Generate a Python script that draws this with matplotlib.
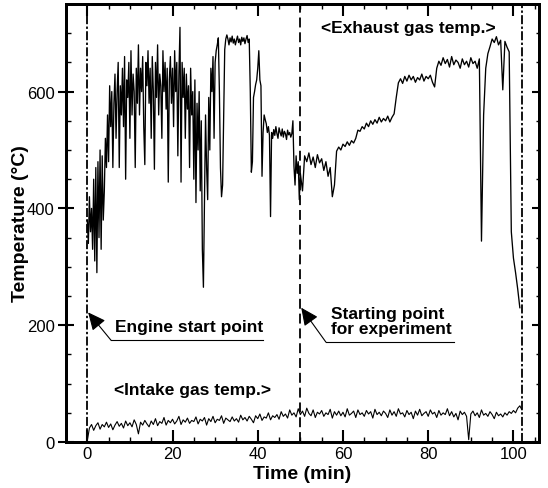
import numpy as np
import matplotlib.pyplot as plt
from matplotlib.ticker import MultipleLocator

plt.rcParams['font.family'] = ['Liberation Sans', 'DejaVu Sans']

# temperatura de escape (C), una muestra cada 0.25 min de 0 a 49.75 min
escape_1 = [
    380, 340, 420, 360, 400, 330, 450, 310, 470, 290,   # t = 0
    480, 350, 500, 330, 490, 380, 430, 520, 470, 560,   # t = 2.5
    480, 610, 540, 600, 470, 580, 630, 520, 600, 650,   # t = 5
    470, 610, 560, 640, 540, 660, 450, 620, 590, 650,   # t = 7.5
    520, 670, 560, 630, 600, 470, 640, 580, 680, 560,   # t = 10
    640, 600, 660, 540, 475, 650, 610, 670, 580, 640,   # t = 12.5
    520, 660, 600, 467, 650, 590, 680, 560, 630, 610,   # t = 15
    520, 670, 600, 650, 570, 640, 445, 620, 660, 580,   # t = 17.5
    640, 540, 670, 600, 650, 490, 630, 710, 445, 650,   # t = 20
    590, 640, 520, 630, 570, 610, 470, 640, 560, 600,   # t = 22.5
    450, 620, 410, 580, 500, 600, 430, 550, 330, 265,   # t = 25
    420, 560, 470, 415, 590, 500, 640, 600, 660, 520,   # t = 27.5
    650, 670, 680, 692, 600, 470, 420, 440, 560, 672,   # t = 30
    690, 697, 690, 680, 692, 685, 695, 683, 690, 680,   # t = 32.5
    688, 695, 684, 690, 680, 693, 686, 692, 682, 690,   # t = 35
    696, 684, 690, 600, 462, 480, 590, 600, 612, 620,   # t = 37.5
    640, 670, 620, 610, 455, 530, 560, 552, 545, 530,   # t = 40
    540, 525, 386, 530, 520, 535, 525, 540, 528, 520,   # t = 42.5
    538, 530, 524, 536, 522, 532, 528, 518, 534, 526,   # t = 45
    530, 522, 528, 550, 472, 440, 490, 460, 480, 415,   # t = 47.5
]

# temperatura de escape, una muestra cada 0.5 min de 50 a 101.5 min
escape_2 = [
    460, 430, 490, 480, 495, 475, 488, 470, 492, 478,   # t = 50
    485, 465, 480, 455, 470, 420, 440, 498, 505, 500,   # t = 55
    510, 506, 514, 508, 516, 512, 520, 534, 532, 540,   # t = 60
    536, 546, 540, 550, 544, 552, 546, 556, 548, 554,   # t = 65
    550, 558, 548, 556, 562, 590, 615, 622, 614, 626,   # t = 70
    618, 628, 620, 626, 616, 624, 620, 630, 618, 626,   # t = 75
    622, 628, 616, 608, 640, 652, 645, 658, 648, 655,   # t = 80
    642, 660, 646, 654, 650, 640, 656, 646, 652, 642,   # t = 85
    658, 648, 652, 640, 656, 344, 560, 640, 665, 677,   # t = 90
    690, 684, 694, 680, 688, 603, 686, 676, 668, 360,   # t = 95
    315, 290, 262, 230,                                 # t = 100
]

# temperatura de admision, una muestra cada 0.5 min de 0 a 102 min
admision = [
    2, 24, 30, 20, 28, 33, 22, 30, 26, 34,
    25, 31, 21, 29, 35, 27, 32, 24, 36, 28,
    33, 26, 38, 30, 14, 34, 29, 37, 31, 26,
    36, 30, 40, 28, 35, 32, 42, 29, 37, 33,
    39, 31, 36, 44, 30, 38, 34, 41, 32, 37,
    35, 43, 31, 39, 36, 42, 29, 40, 35, 44,
    33, 39, 37, 45, 32, 41, 38, 35, 43, 36,
    40, 34, 46, 38, 42, 36, 44, 39, 33, 45,
    40, 48, 37, 43, 41, 50, 38, 45, 42, 47,
    39, 52, 44, 48, 41, 55, 46, 50, 43, 57,
    47, 53, 44, 58, 49, 45, 55, 42, 51, 48,
    54, 44, 50, 47, 56, 41, 52, 46, 53, 45,
    51, 43, 57, 46, 49, 53, 42, 55, 47, 50,
    44, 54, 48, 52, 41, 56, 47, 51, 45, 53,
    49, 42, 55, 46, 52, 44, 57, 48, 50, 43,
    54, 47, 51, 40, 53, 46, 56, 45, 49, 52,
    44, 55, 48, 51, 42, 54, 46, 50, 47, 57,
    45, 52, 43, 49, 38, 53, 47, 51, 44, 4,
    48, 53, 45, 50, 42, 55, 46, 49, 44, 52,
    47, 40, 51, 45, 48, 43, 50, 46, 52, 49,
    54, 50, 58, 62, 55,
]

# momentos marcados (min)
arranque_motor = 0
inicio_experimento = 50
fin = 102

tiempo_1 = 0.25 * np.arange(len(escape_1))
tiempo_2 = 50 + 0.5 * np.arange(len(escape_2))
tiempo_esc = np.concatenate([tiempo_1, tiempo_2])
temp_esc = np.array(escape_1 + escape_2)
tiempo_adm = 0.5 * np.arange(len(admision))

fig = plt.figure(figsize=(5.48, 4.89), dpi=100)
ax = fig.add_axes([0.1204, 0.094, 0.8632, 0.8958])

ax.plot(tiempo_esc, temp_esc, color='black', lw=0.95)
ax.plot(tiempo_adm, admision, color='black', lw=0.8)

# lineas verticales
ax.axvline(arranque_motor, color='black', lw=1.3, dashes=(5, 1.3, 1.3, 1.3))
ax.axvline(fin, color='black', lw=1.3, dashes=(5, 1.3, 1.3, 1.3))
ax.axvline(inicio_experimento, color='black', lw=1.3, dashes=(5.5, 2.7))

ax.set_xlim(-5, 106)
ax.set_ylim(0, 750)

ax.xaxis.set_major_locator(MultipleLocator(20))
ax.xaxis.set_minor_locator(MultipleLocator(5))
ax.yaxis.set_major_locator(MultipleLocator(200))
ax.yaxis.set_minor_locator(MultipleLocator(50))
ax.tick_params(axis='x', which='major', direction='in', length=8.5, width=1.5,
               labelsize=12, pad=3)
ax.tick_params(axis='x', which='minor', direction='in', length=3.5, width=1)
ax.tick_params(axis='y', which='major', direction='inout', length=12, width=1.5,
               labelsize=12, pad=2)
ax.tick_params(axis='y', which='minor', direction='in', length=3.5, width=1)

# ticks arriba y a la derecha
ax_der = ax.twinx()
ax_der.set_ylim(ax.get_ylim())
ax_der.yaxis.set_major_locator(MultipleLocator(200))
ax_der.yaxis.set_minor_locator(MultipleLocator(50))
ax_der.tick_params(axis='y', which='major', direction='in', length=5, width=1.5, labelright=False)
ax_der.tick_params(axis='y', which='minor', direction='in', length=2.5, width=1)
ax_arr = ax.twiny()
ax_arr.set_xlim(ax.get_xlim())
ax_arr.xaxis.set_major_locator(MultipleLocator(20))
ax_arr.xaxis.set_minor_locator(MultipleLocator(5))
ax_arr.tick_params(axis='x', which='major', direction='in', length=8.5, width=1.5, labeltop=False)
ax_arr.tick_params(axis='x', which='minor', direction='in', length=3.5, width=1)

for a in (ax, ax_der, ax_arr):
    for s in a.spines.values():
        s.set_linewidth(2)

ax.set_xlabel('Time (min)', fontsize=14, fontweight='bold', labelpad=3)
ax.set_ylabel('Temperature (°C)', fontsize=14, fontweight='bold')
ax.yaxis.set_label_coords(-0.078, 0.5)

# textos
ax.text(54.8, 709, '<Exhaust gas temp.>', fontsize=12.5, fontweight='bold', va='center')
ax.text(6.3, 90, '<Intake gas temp.>', fontsize=12.5, fontweight='bold', va='center')
ax.text(6.6, 198, 'Engine start point', fontsize=12.5, fontweight='bold', va='center')
ax.text(57.1, 208, 'Starting point\nfor experiment', fontsize=12.5, fontweight='bold',
        va='center', linespacing=1.0)

# flechas con subrayado
flecha = dict(arrowstyle='-|>,head_length=0.6,head_width=0.28', color='black',
              lw=0.8, mutation_scale=18, shrinkA=0, shrinkB=0)
ax.plot([5.6, 41.2], [174, 174], color='black', lw=0.8)
ax.annotate('', xy=(0.2, 222), xytext=(5.6, 174), arrowprops=flecha)
ax.plot([56, 86], [171, 171], color='black', lw=0.8)
ax.annotate('', xy=(50.2, 230), xytext=(56, 171), arrowprops=flecha)

plt.savefig('out.png', dpi=100)
